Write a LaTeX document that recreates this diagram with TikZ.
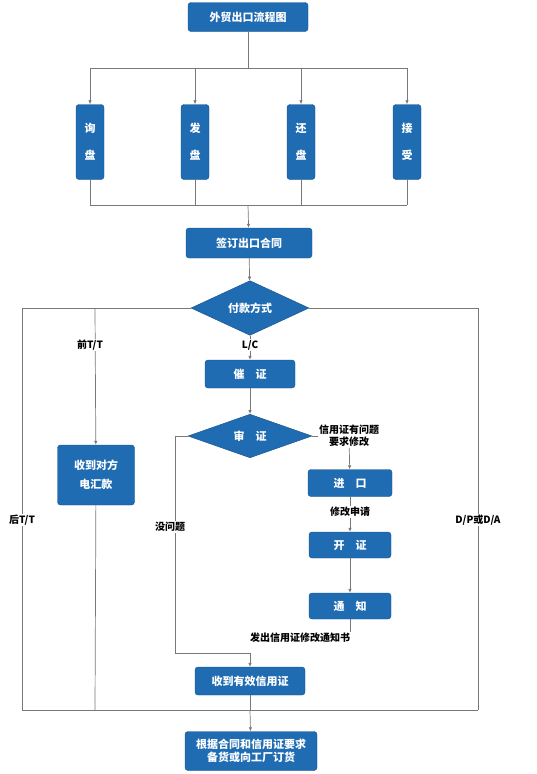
\documentclass[tikz,border=0pt]{standalone}
\usepackage{fontspec}
\newfontfamily\cjk{Noto Sans CJK SC}
\usepackage{tikz}
\usetikzlibrary{shapes, arrows.meta, positioning, shapes.geometric}
\definecolor{blockblue}{RGB}{31,108,178}
\definecolor{blockedge}{RGB}{22,78,135}
\definecolor{wiregray}{RGB}{120,120,120}
\tikzset{%
  block/.style={rectangle, draw=blockedge, fill=blockblue, text=white, text centered, rounded corners=3pt, inner sep=2pt, font=\cjk\bfseries\fontsize{11}{13}\selectfont},
  tallblock/.style={block, align=center, minimum width=28pt, minimum height=75pt},
  decision/.style={diamond, draw=blockedge, fill=blockblue, text=white, inner sep=0pt, font=\cjk\bfseries\fontsize{11}{13}\selectfont},
  note/.style={font=\cjk\bfseries\fontsize{10}{12}\selectfont, text=black, inner sep=1pt},
  line/.style={draw=wiregray, line width=0.7pt, -{Latex[length=4pt, width=3.5pt]}},
  wire/.style={draw=wiregray, line width=0.7pt}}
\begin{document}
\begin{tikzpicture}[x=1pt, y=-1pt]
    \useasboundingbox (0, 0) rectangle (536, 774);

    \node [block, minimum width=120pt, minimum height=29pt] (flow) at (248, 17) {外贸出口流程图};
    \coordinate (topbus) at (248, 68);
    \coordinate (botbus) at (248, 205);
    \path [wire] (flow) -- (topbus);

    \foreach \x/\name/\a/\b in {90/inquiry/询/盘, 195/offer/发/盘, 301/counter/还/盘, 407/accept/接/受} {
      \node [tallblock] (\name) at (\x, 142) {\a\\[14pt]\b};
      \coordinate (top\name) at (\x, 68);
      \coordinate (bot\name) at (\x, 205);
      \path [line] (top\name) -- (\name);
      \path [wire] (\name) -- (bot\name);
    }
    \path [wire] (topinquiry) -- (topaccept);
    \path [wire] (botinquiry) -- (botaccept);

    \node [block, minimum width=126pt, minimum height=30pt] (contract) at (249, 243) {签订出口合同};
    \path [line] (botbus) -- (contract);

    \node [decision, minimum width=118pt, minimum height=40pt] (pay) at (250, 308) {付款方式};
    \path [line] (contract) -- (pay);

    % three ways of payment
    \coordinate (leftTop) at (22, 308);
    \coordinate (leftBot) at (22, 710);
    \coordinate (rightTop) at (478, 308);
    \coordinate (rightBot) at (478, 710);
    \coordinate (ttTop) at (95, 308);
    \coordinate (ttBot) at (95, 710);
    \coordinate (busMid) at (250, 710);

    \path [wire] (pay) -- (leftTop) -- (leftBot);
    \path [wire] (pay) -- (rightTop) -- (rightBot);
    \path [wire] (leftBot) -- (rightBot);

    \node [block, align=center, minimum width=77pt, minimum height=60pt] (remit) at (96, 475) {收到对方\\[6pt]电汇款};
    \path [line] (ttTop) -- (remit);
    \path [wire] (remit) -- (ttBot);
    \node [note, fill=white] (pretT) at (90, 345) {前T/T};
    \node [note, fill=white] (postT) at (22, 520) {后T/T};
    \node [note, fill=white] (dpda) at (478, 520) {D/P或D/A};

    % letter of credit
    \node [block, minimum width=90pt, minimum height=28pt] (urge) at (250, 374) {催\quad 证};
    \path [line] (pay) -- (urge);
    \node [note, fill=white] (lc) at (250, 345) {L/C};

    \node [decision, minimum width=124pt, minimum height=34pt] (check) at (250, 436) {审\quad 证};
    \path [line] (urge) -- (check);

    \node [note, align=center] (issue) at (349, 436) {信用证有问题\\要求修改};
    \path [wire] (check) -- (issue);

    \node [block, minimum width=84pt, minimum height=27pt] (importer) at (350, 483) {进\quad 口};
    \path [line] (issue) -- (importer);

    \node [block, minimum width=82pt, minimum height=26pt] (issuing) at (350, 545) {开\quad 证};
    \path [line] (importer) -- (issuing);
    \node [note, fill=white] (apply) at (350, 512) {修改申请};

    \node [block, minimum width=82pt, minimum height=26pt] (advising) at (350, 606) {通\quad 知};
    \path [line] (issuing) -- (advising);

    \node [note] (notice) at (300, 638) {发出信用证修改通知书};
    \path [wire] (advising) -- (advising |- notice.north);

    \coordinate (loopTop) at (175, 436);
    \coordinate (loopBot) at (175, 653);
    \coordinate (join) at (250, 653);
    \node [block, minimum width=110pt, minimum height=28pt] (valid) at (250, 681) {收到有效信用证};
    \path [line] (check) -- (loopTop) -- (loopBot) -- (join) -- (valid);
    \node [note, fill=white] (fine) at (170, 527) {没问题};
    \path [wire] (valid) -- (busMid);

    \node [block, align=center, minimum width=132pt, minimum height=39pt] (stock) at (251, 751) {根据合同和信用证要求\\备货或向工厂订货};
    \path [line] (busMid) -- (stock);
  \end{tikzpicture}
\end{document}
